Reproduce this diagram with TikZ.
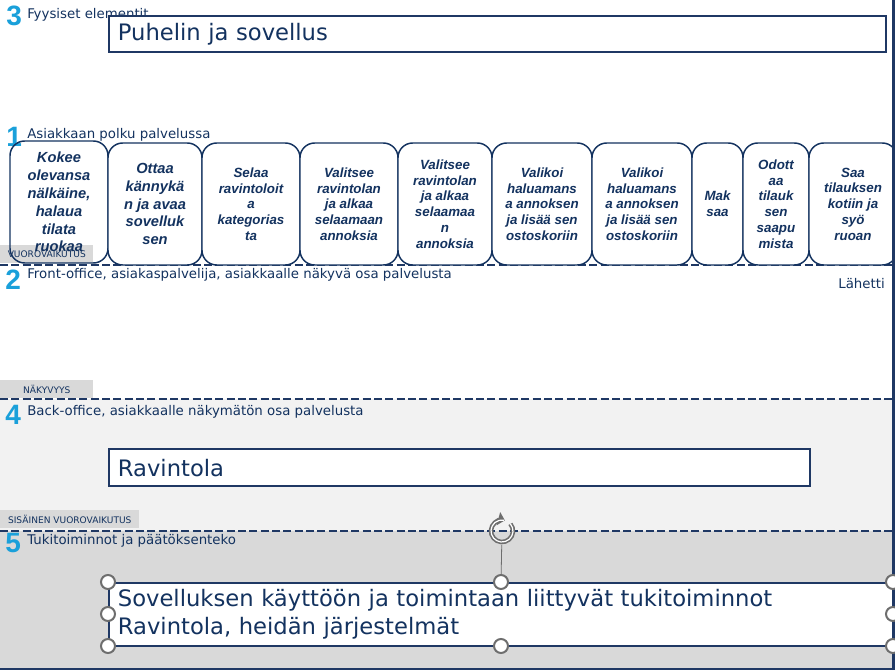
\documentclass[tikz,border=0pt]{standalone}
\usepackage{fontspec}
\setmainfont{DejaVu Sans}
\newfontfamily\arialfont{Liberation Sans}
\usetikzlibrary{arrows.meta, positioning}
\definecolor{navy}{HTML}{13325F}
\definecolor{viiva}{HTML}{1F3864}
\definecolor{syaani}{HTML}{1AA0DA}
\definecolor{harmaa}{HTML}{D9D9D9}
\definecolor{vaalea}{HTML}{F2F2F2}
\definecolor{kahvaharmaa}{HTML}{6E6E6E}

\begin{document}
\begin{tikzpicture}[
        x=0.75pt, y=-0.75pt,
        text=navy,
        numero/.style={anchor=base west, inner sep=0pt, text=syaani, font=\arialfont\bfseries\fontsize{21}{21}\selectfont},
        otsikko/.style={anchor=base west, inner sep=0pt, font=\fontsize{10}{12}\selectfont},
        polku/.style={draw=navy, line width=1.1pt, rounded corners=11pt, fill=white, align=center, inner sep=1pt, minimum height=91.5pt, font=\arialfont\bfseries\itshape\fontsize{10}{11.8}\selectfont},
        iso/.style={font=\arialfont\bfseries\itshape\fontsize{11}{13.4}\selectfont},
        kentta/.style={draw=viiva, line width=1.8pt, fill=white, anchor=north west, align=left, inner xsep=6.5pt, font=\fontsize{17}{21}\selectfont},
        raja/.style={draw=viiva, line width=1.5pt, dash pattern=on 6pt off 2.5pt},
        tunniste/.style={fill=harmaa, anchor=north west, inner sep=0pt, minimum height=13.5pt, font=\fontsize{6.8}{8}\selectfont},
        kahva/.style={circle, draw=kahvaharmaa, fill=white, line width=1.5pt, inner sep=0pt, minimum size=10.5pt}
    ]
        \useasboundingbox (0,0) rectangle (895,670);

        % taustat
        \fill[vaalea] (0,399) rectangle (893,531);
        \fill[harmaa] (0,531) rectangle (893,668);

        % rajaviivat
        \draw[raja] (0,265) -- (893,265);
        \draw[raja] (0,399) -- (893,399);
        \draw[raja] (0,531) -- (893,531);

        % otsikot
        \node[numero] (n3) at (6,26) {3};
        \node[otsikko] (fyysiset) at (27,19) {Fyysiset elementit};
        \node[numero] (n1) at (6,147) {1};
        \node[otsikko] (polkuots) at (27,139) {Asiakkaan polku palvelussa};
        \node[numero] (n2) at (5,289) {2};
        \node[otsikko] (front) at (27,278) {Front-office, asiakaspalvelija, asiakkaalle näkyvä osa palvelusta};
        \node[numero] (n4) at (5,424) {4};
        \node[otsikko] (back) at (27,415) {Back-office, asiakkaalle näkymätön osa palvelusta};
        \node[numero] (n5) at (5,552) {5};
        \node[otsikko] (tuki) at (27,544) {Tukitoiminnot ja päätöksenteko};
        \node[otsikko, anchor=base east] (lahetti) at (885,288) {Lähetti};

        % kentat
        \node[kentta, minimum width=582.75pt, minimum height=27pt, text width=569.75pt] (puhelin) at (108,15) {Puhelin ja sovellus};
        \node[kentta, minimum width=525.75pt, minimum height=27.75pt, text width=512.75pt] (ravintola) at (108,448) {Ravintola};
        \node[kentta, minimum width=588.75pt, minimum height=47.25pt, text width=575.75pt] (tukikentta) at (108,582) {Sovelluksen käyttöön ja toimintaan liittyvät tukitoiminnot\\Ravintola, heidän järjestelmät};

        % tunnisteet
        \node[tunniste, minimum width=69.75pt] (vuoro) at (0,245) {VUOROVAIKUTUS};
        \node[tunniste, minimum width=69.75pt] (nakyvyys) at (0,380) {NÄKYVYYS};
        \node[tunniste, minimum width=104.25pt] (sisainen) at (0,510) {SISÄINEN VUOROVAIKUTUS};

        % asiakkaan polku
        \node[polku, iso, fill=none, minimum width=73.5pt] (p1) at (59,202) {Kokee\\olevansa\\nälkäine,\\halaua\\tilata\\ruokaa};
        \node[polku, iso, minimum width=70.5pt] (p2) at (155,204) {Ottaa\\kännykä\\n ja avaa\\sovelluk\\sen};
        \node[polku, minimum width=73.5pt] (p3) at (251,204) {Selaa\\ravintoloit\\a\\kategorias\\ta};
        \node[polku, minimum width=73.5pt] (p4) at (349,204) {Valitsee\\ravintolan\\ja alkaa\\selaamaan\\annoksia};
        \node[polku, minimum width=70.5pt] (p5) at (445,204) {Valitsee\\ravintolan\\ja alkaa\\selaamaa\\n\\annoksia};
        \node[polku, minimum width=75pt] (p6) at (542,204) {Valikoi\\haluamans\\a annoksen\\ja lisää sen\\ostoskoriin};
        \node[polku, minimum width=75pt] (p7) at (642,204) {Valikoi\\haluamans\\a annoksen\\ja lisää sen\\ostoskoriin};
        \node[polku, minimum width=38.25pt] (p8) at (717.5,204) {Mak\\saa};
        \node[polku, minimum width=49.5pt] (p9) at (776,204) {Odott\\aa\\tilauk\\sen\\saapu\\mista};
        \node[polku, minimum width=66pt] (p10) at (853,204) {Saa\\tilauksen\\kotiin ja\\syö\\ruoan};

        % reunat
        \draw[viiva, line width=2.2pt] (893.5,0) -- (893.5,670);
        \draw[viiva, line width=1.5pt] (0,668.5) -- (893.5,668.5);

        % valintakahvat
        \foreach \hx/\hy [count=\i] in {108/582, 108/614, 108/646, 501/582, 501/646, 893/582, 893/614, 893/646}
            \node[kahva] (k\i) at (\hx,\hy) {};
        \node[inner sep=0pt, minimum size=20pt] (kierto) at (502,531) {};
        \draw[kahvaharmaa, line width=0.6pt] (kierto) -- (k4);
        \draw[kahvaharmaa, line width=3.4pt, -{Triangle[length=5pt, width=10pt]}] ([shift={(-40:11)}]kierto.center) arc (-40:285:11);
        \draw[white, line width=0.9pt] ([shift={(-40:11)}]kierto.center) arc (-40:280:11);
    \end{tikzpicture}
\end{document}
